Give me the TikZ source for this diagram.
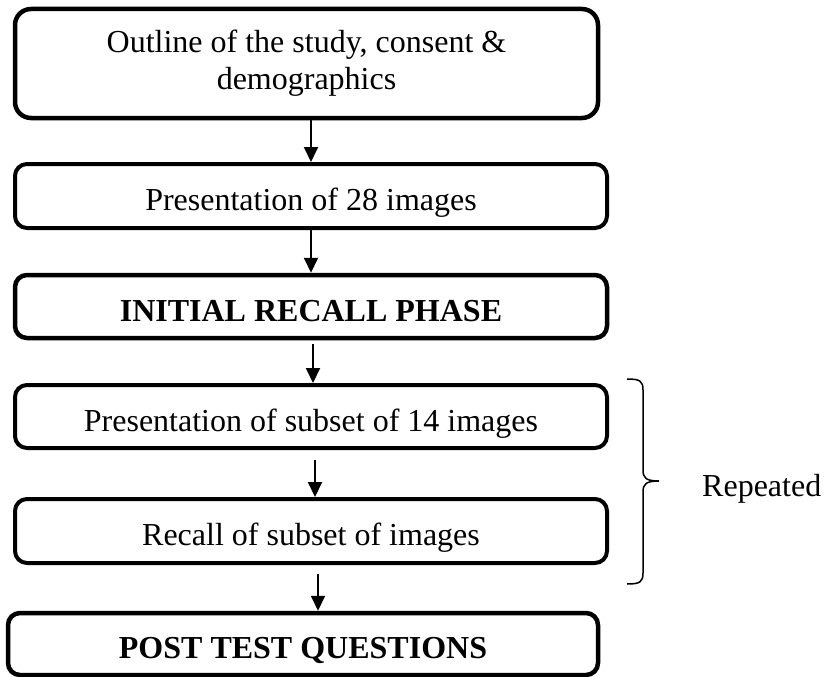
\documentclass[tikz,border=0pt]{standalone}
\usepackage{fontspec}
\setmainfont{Liberation Serif}
\usetikzlibrary{arrows.meta}
\begin{document}
\begin{tikzpicture}[x=1pt,y=-1pt,
  box/.style={draw, line width=4pt, rounded corners=12pt, inner sep=0pt,
    align=center, font=\fontsize{32}{37}\selectfont},
  onebox/.style={box, text height=29pt, text depth=0pt},
  arr/.style={line width=2pt, -{Triangle[length=15pt,width=14pt]}},
  bracestyle/.style={line width=1.5pt}]
\useasboundingbox (0,0) rectangle (825,677);
\node[box, line width=4.5pt, rounded corners=16pt, minimum width=583pt, minimum height=109pt] (b1) at (306.5,63.5)
  {Outline of the study, consent \&\\demographics};
\node[onebox, minimum width=592pt, minimum height=64pt] (b2) at (311,196) {Presentation of 28 images};
\node[onebox, line width=4.5pt, minimum width=592pt, minimum height=63pt] (b3) at (311,306.5) {\bfseries INITIAL RECALL PHASE};
\node[onebox, minimum width=592pt, minimum height=63pt] (b4) at (311,416.5) {Presentation of subset of 14 images};
\node[onebox, minimum width=592pt, minimum height=64pt] (b5) at (311,531) {Recall of subset of images};
\node[onebox, line width=4.5pt, minimum width=590pt, minimum height=62pt] (b6) at (303,644) {\bfseries POST TEST QUESTIONS};
\draw[arr] ([xshift=4.5pt]b1.south) -- (b2.north);
\draw[arr] (b2.south) -- (b3.north);
\draw[arr] ([xshift=2pt,yshift=-4pt]b3.south) -- ([xshift=2pt]b4.north);
\draw[arr] ([xshift=4pt,yshift=-10pt]b4.south) -- ([xshift=4pt]b5.north);
\draw[arr] ([xshift=7pt,yshift=-9pt]b5.south) -- ([xshift=15pt]b6.north);
\coordinate (brtop) at (627,379);
\coordinate (brbot) at (627,584);
\coordinate (brtip) at (659,481);
\draw[bracestyle] (brtop) .. controls (640,379) and (643,381) .. (643,390) -- (643,470)
  .. controls (643,478) and (646,481) .. (brtip)
  .. controls (646,481) and (643,484) .. (643,492) -- (643,573)
  .. controls (643,582) and (640,584) .. (brbot);
\node[anchor=base west, inner sep=0pt, font=\fontsize{32}{37}\selectfont] (rep) at (702,496) {Repeated};
\end{tikzpicture}
\end{document}
